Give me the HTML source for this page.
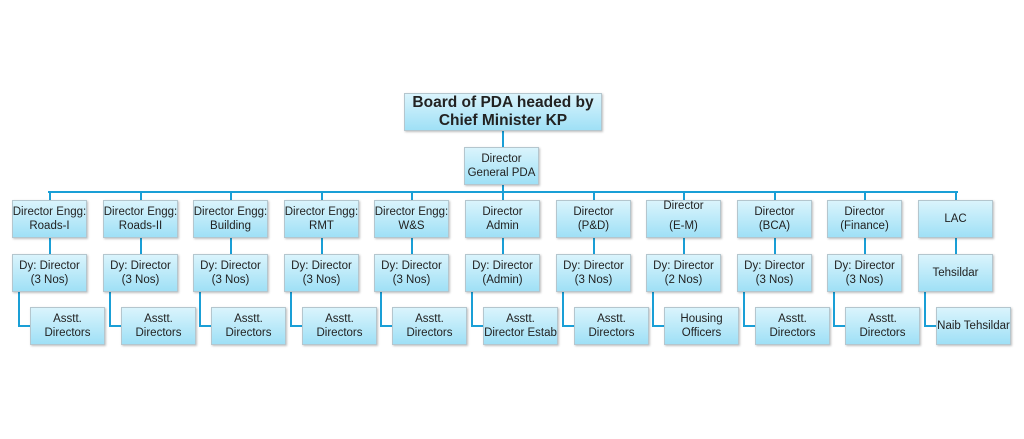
<!DOCTYPE html>
<html><head><style>
body{margin:0;width:1024px;height:439px;background:#fff;position:relative;overflow:hidden;font-family:"Liberation Sans",sans-serif}
.b{position:absolute;box-sizing:border-box;border:1px solid #b4c6ce;background:linear-gradient(#daf4fc,#9fe0f6);display:flex;align-items:center;justify-content:center;text-align:center;font-size:11.5px;line-height:14px;color:#222;box-shadow:1px 1px 2px rgba(0,0,0,.25);white-space:nowrap}
.l{position:absolute;background:#1a9fd6}
</style></head><body>
<div class="l" style="left:502px;top:131px;width:2px;height:16px"></div>
<div class="l" style="left:502px;top:185px;width:2px;height:8px"></div>
<div class="l" style="left:48px;top:191px;width:910px;height:2px"></div>
<div class="b" style="left:404px;top:93px;width:198px;height:38px;font-size:15.5px;font-weight:bold;line-height:18px"><div>Board of PDA headed by<br>Chief Minister KP</div></div>
<div class="b" style="left:464px;top:147px;width:75px;height:38px"><div>Director<br>General PDA</div></div>
<div id="c"></div>
<script>
var t=[["Director Engg:<br>Roads-I","Dy: Director<br>(3 Nos)","Asstt.<br>Directors"],
["Director Engg:<br>Roads-II","Dy: Director<br>(3 Nos)","Asstt.<br>Directors"],
["Director Engg:<br>Building","Dy: Director<br>(3 Nos)","Asstt.<br>Directors"],
["Director Engg:<br>RMT","Dy: Director<br>(3 Nos)","Asstt.<br>Directors"],
["Director Engg:<br>W&amp;S","Dy: Director<br>(3 Nos)","Asstt.<br>Directors"],
["Director<br>Admin","Dy: Director<br>(Admin)","Asstt.<br>Director Estab"],
["Director<br>(P&amp;D)","Dy: Director<br>(3 Nos)","Asstt.<br>Directors"],
["<div style='margin-top:-6px'>Director</div><div style='margin-top:6px'>(E-M)</div>","Dy: Director<br>(2 Nos)","Housing<br>Officers"],
["Director<br>(BCA)","Dy: Director<br>(3 Nos)","Asstt.<br>Directors"],
["Director<br>(Finance)","Dy: Director<br>(3 Nos)","Asstt.<br>Directors"],
["LAC","Tehsildar","Naib Tehsildar"]];
var h="";
for(var i=0;i<11;i++){var x=Math.round(12+i*90.6),cx=x+37;
h+='<div class="l" style="left:'+cx+'px;top:191px;width:2px;height:9px"></div>';
h+='<div class="l" style="left:'+cx+'px;top:238px;width:2px;height:16px"></div>';
h+='<div class="l" style="left:'+(x+6)+'px;top:292px;width:2px;height:35px"></div>';
h+='<div class="l" style="left:'+(x+6)+'px;top:325px;width:14px;height:2px"></div>';
h+='<div class="b" style="left:'+x+'px;top:200px;width:75px;height:38px"><div>'+t[i][0]+'</div></div>';
h+='<div class="b" style="left:'+x+'px;top:254px;width:75px;height:38px"><div>'+t[i][1]+'</div></div>';
h+='<div class="b" style="left:'+(x+18)+'px;top:307px;width:75px;height:38px"><div>'+t[i][2]+'</div></div>';}
document.getElementById("c").innerHTML=h;
</script>
</body></html>
